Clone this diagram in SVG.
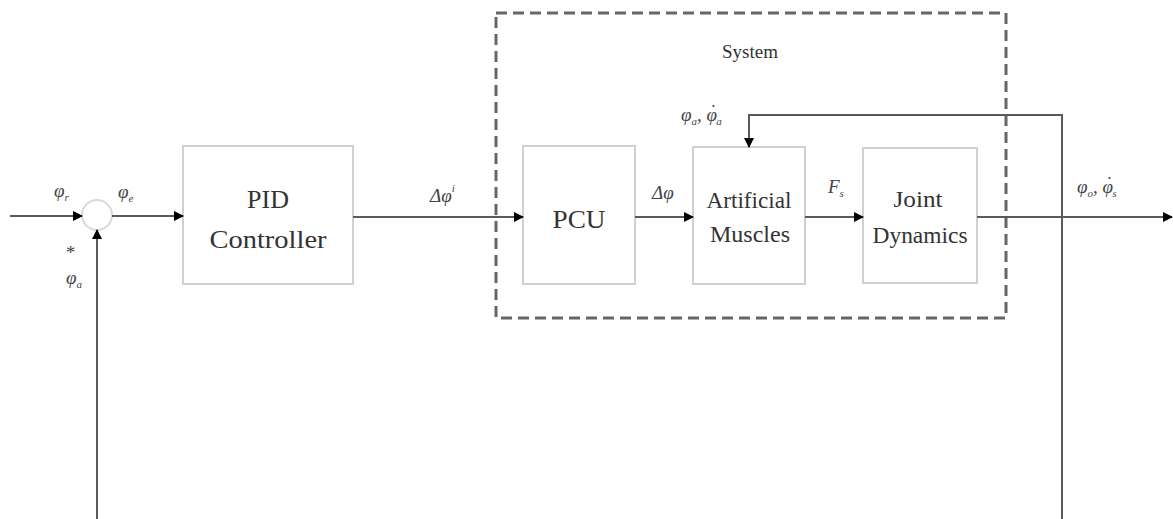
<svg xmlns="http://www.w3.org/2000/svg" width="1173" height="519" viewBox="0 0 1173 519">
<style>
.box{fill:#fff;stroke:#d0d0d0;stroke-width:2}
.ln{fill:none;stroke:#5a5a5a;stroke-width:2}
text{font-family:'Liberation Serif','DejaVu Serif','Times New Roman',serif}
.t{fill:#333;text-anchor:middle}
.big{font-size:26px}
.m{font-style:italic;font-size:19px;fill:#444}
.s{font-size:11px}
</style>
<defs>
<marker id="ah" viewBox="0 0 10 10" refX="9" refY="5" markerWidth="5" markerHeight="5" orient="auto" markerUnits="strokeWidth">
<path d="M0,0 L10,5 L0,10 z" fill="#000"/>
</marker>
</defs>
<rect width="1173" height="519" fill="#fff"/>

<g id="system-boundary">
<rect x="496" y="13" width="510" height="305" fill="none" stroke="#666" stroke-width="3" stroke-dasharray="11,6"/>
<text class="t" x="750" y="58" font-size="19">System</text>
</g>

<g id="sum">
<circle cx="97" cy="215" r="15" fill="#fff" stroke="#d8d8d8" stroke-width="2"/>
</g>

<g id="pid">
<rect class="box" x="183" y="146" width="170" height="138"/>
<text class="t big" x="268" y="208">PID</text>
<text class="t big" x="268" y="248" textLength="117" lengthAdjust="spacingAndGlyphs">Controller</text>
</g>

<g id="pcu">
<rect class="box" x="523" y="146" width="112" height="138"/>
<text class="t big" x="579" y="228" textLength="53" lengthAdjust="spacingAndGlyphs">PCU</text>
</g>

<g id="muscles">
<rect class="box" x="693" y="147" width="112" height="137"/>
<text class="t" font-size="24" x="749" y="208" textLength="85" lengthAdjust="spacingAndGlyphs">Artificial</text>
<text class="t" font-size="24" x="750" y="242" textLength="80" lengthAdjust="spacingAndGlyphs">Muscles</text>
</g>

<g id="joint">
<rect class="box" x="863" y="148" width="114" height="135"/>
<text class="t" font-size="24" x="918" y="207" textLength="49" lengthAdjust="spacingAndGlyphs">Joint</text>
<text class="t" font-size="24" x="920" y="243" textLength="95" lengthAdjust="spacingAndGlyphs">Dynamics</text>
</g>

<g id="connectors">
<line class="ln" x1="10" y1="216" x2="82" y2="216" marker-end="url(#ah)"/>
<line class="ln" x1="112" y1="216" x2="183" y2="216" marker-end="url(#ah)"/>
<line class="ln" x1="97" y1="519" x2="97" y2="230" marker-end="url(#ah)"/>
<line class="ln" x1="353" y1="217" x2="523" y2="217" marker-end="url(#ah)"/>
<line class="ln" x1="635" y1="217" x2="693" y2="217" marker-end="url(#ah)"/>
<line class="ln" x1="805" y1="217" x2="863" y2="217" marker-end="url(#ah)"/>
<line class="ln" x1="977" y1="217" x2="1172" y2="217" marker-end="url(#ah)"/>
<polyline class="ln" points="1062,519 1062,115 749,115 749,147" marker-end="url(#ah)"/>
</g>

<g id="labels">
<text class="m" x="54" y="197">φ<tspan class="s" dy="4">r</tspan></text>
<text class="m" x="118" y="198">φ<tspan class="s" dy="4">e</tspan></text>
<text class="m" x="65" y="259" font-size="12">*</text>
<text class="m" x="66" y="284">φ<tspan class="s" dy="4">a</tspan></text>
<text class="m" x="430" y="202">Δφ<tspan class="s" dy="-10">i</tspan></text>
<text class="m" x="652" y="199">Δφ</text>
<text class="m" x="828" y="193" font-size="16">F<tspan class="s" dy="4">s</tspan></text>
<text class="m" x="681" y="121">φ<tspan class="s" dy="4">a</tspan><tspan dy="-4">, φ</tspan><tspan dx="-8" dy="-3">˙</tspan><tspan class="s" dx="1" dy="7">a</tspan></text>
<text class="m" x="1077" y="193">φ<tspan class="s" dy="4">o</tspan><tspan dy="-4">, φ</tspan><tspan dx="-8" dy="-3">˙</tspan><tspan class="s" dx="1" dy="7">s</tspan></text>
</g>
</svg>
